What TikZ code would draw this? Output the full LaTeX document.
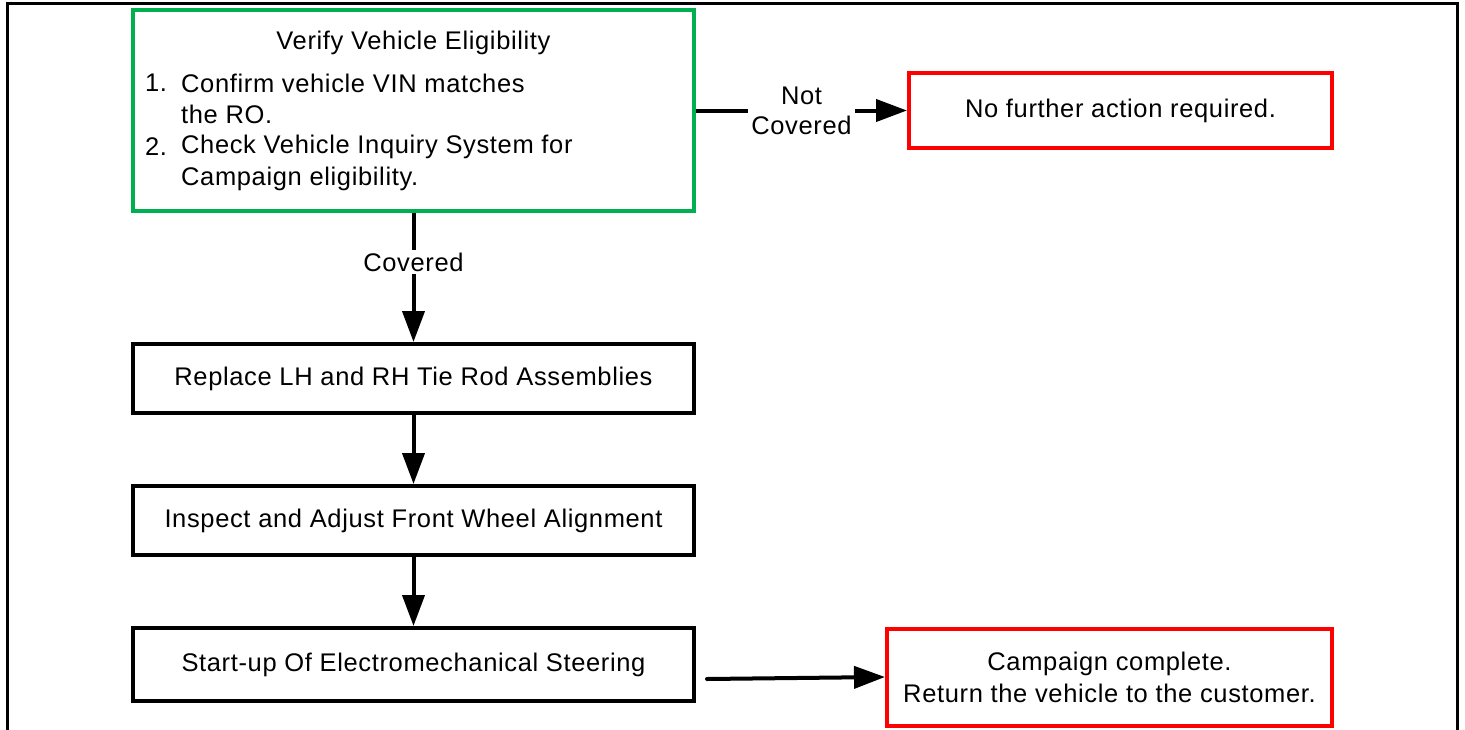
\documentclass[tikz,border=0pt]{standalone}
\usepackage{fontspec}
\setmainfont{Liberation Sans}[LetterSpace=2.5]
\usetikzlibrary{arrows.meta}
\definecolor{boxgreen}{RGB}{0,176,80}
\definecolor{boxred}{RGB}{255,0,0}
\begin{document}
\begin{tikzpicture}[x=1pt,y=-1pt,
  every node/.style={font=\fontsize{25.5}{32}\selectfont},
  box/.style={draw, line width=4pt, minimum width=561pt, inner sep=0pt},
  greenbox/.style={box, draw=boxgreen},
  redbox/.style={box, draw=boxred, align=center},
  blackbox/.style={box, draw=black},
  txt/.style={inner sep=0pt, anchor=west},
  conn/.style={line width=4pt, -{Triangle[length=31pt,width=22pt]}},
  lbl/.style={fill=white, inner sep=3pt, align=center, font=\fontsize{25.5}{30}\selectfont}]
\useasboundingbox (0,0) rectangle (1465,729);
\clip (0,0) rectangle (1465,729);
\draw[line width=3pt] (7,740) -- (7,3) -- (1457,3) -- (1457,740);

\node[greenbox, minimum height=201pt] (verify) at (413.5,110.5) {};
\node[inner sep=0pt] (title) at (413.5,43) {Verify Vehicle Eligibility};
\node[txt] (n1) at (145,83) {1.};
\node[txt] (i1a) at (181,83) {Confirm vehicle VIN matches};
\node[txt] (i1b) at (181,114) {the RO.};
\node[txt] (n2) at (145,147) {2.};
\node[txt] (i2a) at (181,147) {Check Vehicle Inquiry System for};
\node[txt] (i2b) at (181,179) {Campaign eligibility.};

\node[redbox, minimum width=423pt, minimum height=75pt] (nofurther) at (1120.5,110.5) {No further action required.};
\node[blackbox, minimum height=69pt] (replace) at (413.5,378.5) {Replace LH and RH Tie Rod Assemblies};
\node[blackbox, minimum height=69pt] (inspect) at (413.5,520.5) {Inspect and Adjust Front Wheel Alignment};
\node[blackbox, minimum height=73pt] (startup) at (413.5,664.5) {Start-up Of Electromechanical Steering};
\node[redbox, minimum width=445pt, minimum height=97pt] (complete) at (1109.5,677) {Campaign complete.\\Return the vehicle to the customer.};

\draw[conn] (verify.east) -- node[lbl] {Not\\Covered} (nofurther.west);
\draw[conn] (verify.south) -- node[lbl, pos=0.38] {Covered} (replace.north);
\draw[conn] (replace.south) -- (inspect.north);
\draw[conn] (inspect.south) -- (startup.north);
\coordinate (s) at (707,679);
\draw[conn, line cap=round] (s) -- (complete.west);
\end{tikzpicture}
\end{document}
